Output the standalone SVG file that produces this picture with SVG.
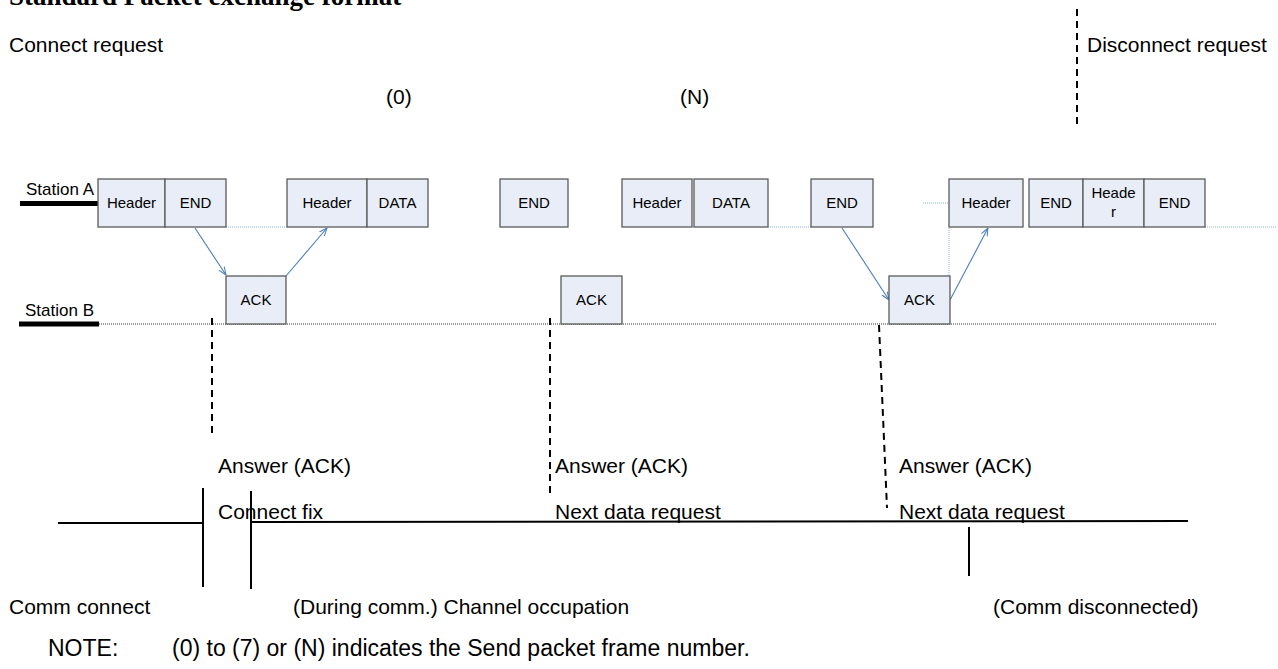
<svg xmlns="http://www.w3.org/2000/svg" width="1278" height="669" viewBox="0 0 1278 669">
<defs>
<style>
.t{font-family:"Liberation Sans",Arial,sans-serif;font-size:21px;fill:#000}
.n{font-family:"Liberation Sans",Arial,sans-serif;font-size:23px;fill:#000}
.st{font-family:"Liberation Sans",Arial,sans-serif;font-size:17px;fill:#000}
.bt{font-family:"Liberation Sans",Arial,sans-serif;font-size:15px;fill:#000;text-anchor:middle}
.box{fill:#e8edf7;stroke:#5a5a5a;stroke-width:1.3}
.arr{stroke:#4a7ebb;stroke-width:1.1;fill:none;marker-end:url(#ah)}
.dotb{stroke:#8fb0dc;stroke-width:1;stroke-dasharray:1 1;fill:none}
.dash{stroke:#000;stroke-width:2;stroke-dasharray:7 5;fill:none}
.sol{stroke:#000;stroke-width:2;fill:none}
</style>
<marker id="ah" viewBox="0 0 10 10" refX="10" refY="5" markerWidth="8" markerHeight="8" orient="auto" markerUnits="userSpaceOnUse">
<path d="M0,1 L10,5 L0,9" fill="none" stroke="#4a7ebb" stroke-width="1.3"/>
</marker>
</defs>
<rect width="1278" height="669" fill="#fff"/>
<text x="9" y="5" font-family="'Liberation Serif','Times New Roman',serif" font-size="27" font-weight="bold">Standard Packet exchange format</text>
<text class="t" x="9" y="52">Connect request</text>
<text class="t" x="386" y="104">(0)</text>
<text class="t" x="680" y="104">(N)</text>
<text class="t" x="1087" y="52">Disconnect request</text>

<g id="stations">
<text class="st" x="26" y="195">Station A</text>
<text class="st" x="25" y="316">Station B</text>
<line x1="20" y1="203.5" x2="100" y2="203.5" stroke="#000" stroke-width="5"/>
<line x1="19" y1="324" x2="99" y2="324" stroke="#000" stroke-width="5"/>
<line x1="99" y1="324" x2="1217" y2="324" stroke="#333" stroke-width="1" stroke-dasharray="1 1"/>
</g>

<g id="connectors">
<path class="dotb" d="M226,227 H287 M768,227 H811 M1205,227 H1277 M923,203 H949 M949,228 V276"/>
<line class="arr" x1="195" y1="228" x2="226" y2="275"/>
<line class="arr" x1="286" y1="276" x2="327" y2="228"/>
<line class="arr" x1="842" y1="228" x2="889" y2="300"/>
<line class="arr" x1="950" y1="300" x2="988" y2="228"/>
<line class="dash" x1="212" y1="318" x2="212" y2="435"/>
<line class="dash" x1="550" y1="318" x2="550" y2="493"/>
<line class="dash" x1="879" y1="325" x2="887" y2="508"/>
<line class="dash" x1="1077" y1="9" x2="1077" y2="128"/>
<line class="sol" x1="58" y1="523" x2="203" y2="523"/>
<line class="sol" x1="203" y1="488" x2="203" y2="587"/>
<line class="sol" x1="251" y1="491" x2="251" y2="589"/>
<line class="sol" x1="251" y1="522" x2="1188" y2="521"/>
<line class="sol" x1="969" y1="527" x2="969" y2="576"/>
</g>

<g id="n-header1"><rect class="box" x="98" y="179" width="67" height="48"/><text class="bt" x="131.5" y="208">Header</text></g>
<g id="n-end1"><rect class="box" x="165" y="179" width="61" height="48"/><text class="bt" x="195.5" y="208">END</text></g>
<g id="n-header2"><rect class="box" x="287" y="179" width="80" height="48"/><text class="bt" x="327" y="208">Header</text></g>
<g id="n-data2"><rect class="box" x="367" y="179" width="61" height="48"/><text class="bt" x="397.5" y="208">DATA</text></g>
<g id="n-end3"><rect class="box" x="500" y="179" width="68" height="48"/><text class="bt" x="534" y="208">END</text></g>
<g id="n-header4"><rect class="box" x="622" y="179" width="70" height="48"/><text class="bt" x="657" y="208">Header</text></g>
<g id="n-data4"><rect class="box" x="694" y="179" width="74" height="48"/><text class="bt" x="731" y="208">DATA</text></g>
<g id="n-end5"><rect class="box" x="811" y="179" width="62" height="48"/><text class="bt" x="842" y="208">END</text></g>
<g id="n-header6"><rect class="box" x="949" y="179" width="74" height="48"/><text class="bt" x="986" y="208">Header</text></g>
<g id="n-end7"><rect class="box" x="1029" y="179" width="54" height="48"/><text class="bt" x="1056" y="208">END</text></g>
<g id="n-header8"><rect class="box" x="1083" y="179" width="61" height="48"/><text class="bt" x="1113.5" y="198">Heade</text><text class="bt" x="1113.5" y="217">r</text></g>
<g id="n-end8"><rect class="box" x="1144" y="179" width="61" height="48"/><text class="bt" x="1174.5" y="208">END</text></g>
<g id="n-ack1"><rect class="box" x="226" y="276" width="60" height="48"/><text class="bt" x="256" y="305">ACK</text></g>
<g id="n-ack2"><rect class="box" x="561" y="276" width="61" height="48"/><text class="bt" x="591.5" y="305">ACK</text></g>
<g id="n-ack3"><rect class="box" x="889" y="276" width="61" height="48"/><text class="bt" x="919.5" y="305" font-size="14">ACK</text></g>

<g id="labels">
<text class="t" x="218" y="473">Answer (ACK)</text>
<text class="t" x="555" y="473">Answer (ACK)</text>
<text class="t" x="899" y="473">Answer (ACK)</text>
<text class="t" x="218" y="519">Connect fix</text>
<text class="t" x="555" y="519">Next data request</text>
<text class="t" x="899" y="519">Next data request</text>
<text class="t" x="9" y="614">Comm connect</text>
<text class="t" x="293" y="614">(During comm.) Channel occupation</text>
<text class="t" x="993" y="614">(Comm disconnected)</text>
<text class="n" x="48" y="656">NOTE:</text>
<text class="n" x="172" y="656">(0) to (7) or (N) indicates the Send packet frame number.</text>
</g>
</svg>
